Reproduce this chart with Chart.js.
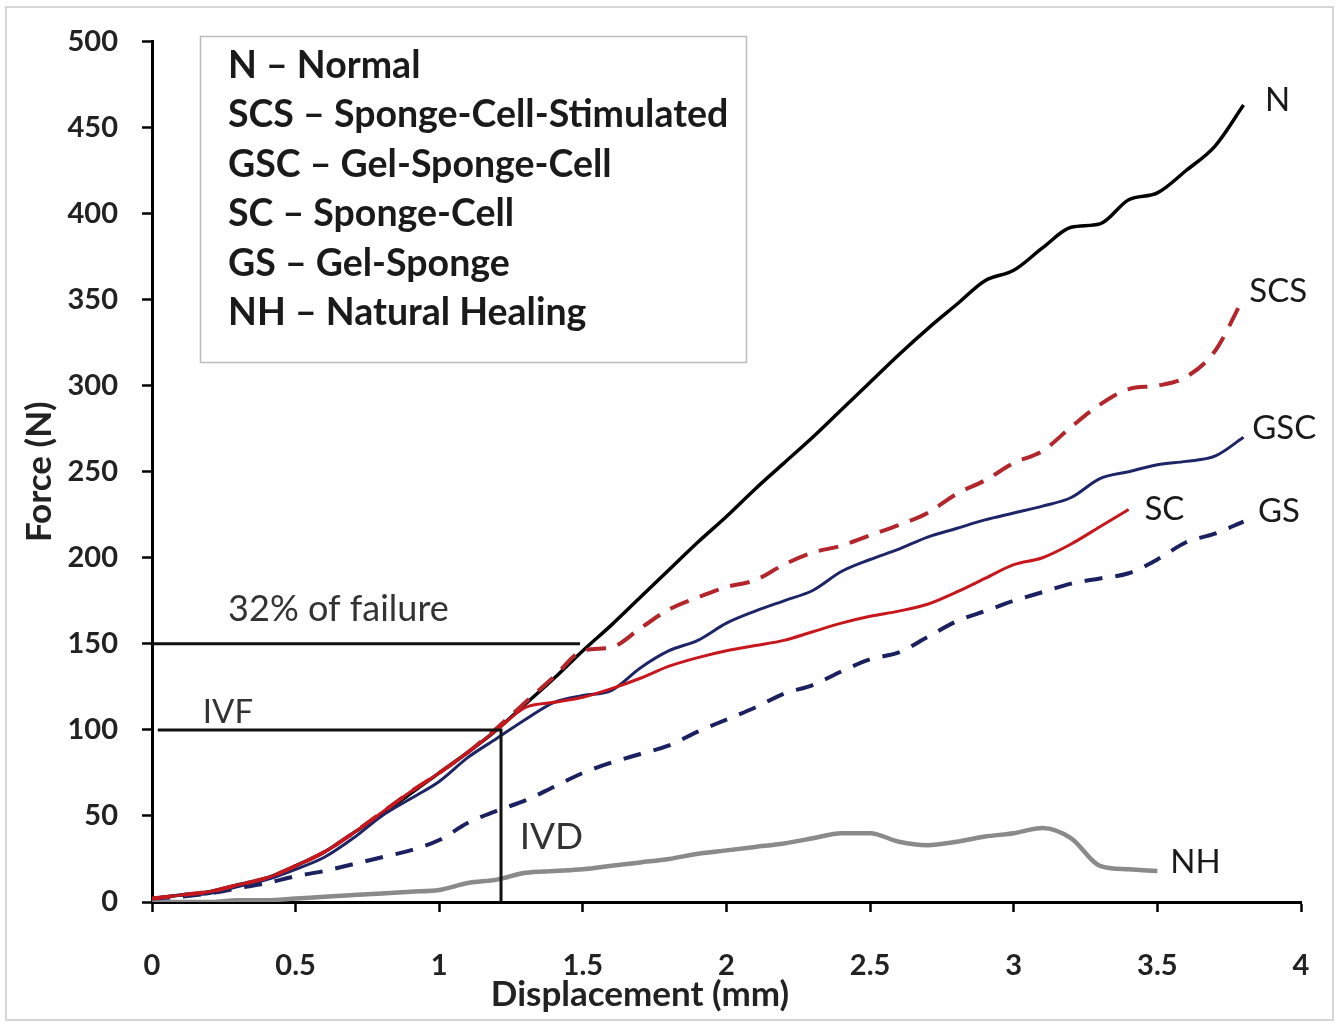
<!DOCTYPE html>
<html>
<head>
<meta charset="utf-8">
<script src="https://cdn.jsdelivr.net/npm/chart.js@4.4.1/dist/chart.umd.min.js"></script>
<style>
  body { margin: 0; background: #fff; overflow: hidden; }
  #wrap { width: 1339px; height: 1025px; }
</style>
</head>
<body>
<div id="wrap"><canvas id="forceChart"></canvas></div>
<script>
// displacement steps (mm)
const disp = [0, 0.1, 0.2, 0.3, 0.4, 0.5, 0.6, 0.7, 0.8, 0.9, 1, 1.1, 1.2, 1.3, 1.4, 1.5, 1.6, 1.7, 1.8, 1.9,
  2, 2.1, 2.2, 2.3, 2.4, 2.5, 2.6, 2.7, 2.8, 2.9, 3, 3.1, 3.2, 3.3, 3.4, 3.5, 3.6, 3.7, 3.8];

// force (N)
const normal = [2, 4, 6, 10, 14, 21, 29, 40, 51, 63, 75, 87, 100, 115, 130, 146, 161, 177, 193, 209,
  224, 240, 255, 270, 286, 302, 318, 333, 347, 361, 367, 380, 392, 394, 408, 412, 425, 439, 463];
const spongeCellStim = [2, 4, 6, 10, 14, 21, 29, 40, 52, 64, 75, 87, 101, 116, 131, 146, 148, 159, 170, 177,
  183, 187, 196, 203, 207, 213, 219, 226, 237, 245, 255, 262, 276, 289, 298, 300, 305, 320, 351];
const gelSpongeCell = [2, 4, 5, 9, 13, 19, 26, 37, 50, 60, 70, 84, 95, 106, 116, 120, 123, 136, 146, 152,
  162, 169, 175, 181, 192, 199, 205, 212, 217, 222, 226, 230, 235, 246, 250, 254, 256, 259, 270];
const spongeCell = [2, 4, 6, 10, 14, 21, 29, 40, 52, 64, 75, 87, 100, 113, 116, 119, 124, 130, 137, 142,
  146, 149, 152, 157, 162, 166, 169, 173, 180, 188, 196, 200, 208, 218, 228];
const gelSponge = [2, 3, 5, 8, 11, 15, 18, 22, 26, 30, 36, 46, 53, 59, 67, 75, 81, 86, 91, 99,
  106, 113, 121, 126, 134, 141, 145, 154, 163, 169, 175, 180, 185, 188, 191, 199, 209, 214, 221];
const naturalHealing = [0, 0, 0, 1, 1, 2, 3, 4, 5, 6, 7, 11, 13, 17, 18, 19, 21, 23, 25, 28,
  30, 32, 34, 37, 40, 40, 35, 33, 35, 38, 40, 43, 37, 21, 19, 18];

const legendLines = ['N – Normal', 'SCS – Sponge-Cell-Stimulated', 'GSC – Gel-Sponge-Cell',
  'SC – Sponge-Cell', 'GS – Gel-Sponge', 'NH – Natural Healing'];

// curve end labels [text, x, y]
const endLabels = [['N', 3.875, 466], ['SCS', 3.82, 355], ['GSC', 3.83, 275],
  ['SC', 3.455, 228], ['GS', 3.85, 227], ['NH', 3.545, 23]];

function pts(ys) {
  return ys.map((y, i) => ({ x: disp[i], y: y }));
}

const FONT = 'Lato, "Open Sans", sans-serif';

const decorPlugin = {
  id: 'decor',
  beforeDraw(chart) {
    const ctx = chart.ctx;
    ctx.save();
    ctx.strokeStyle = '#d6d6d6';
    ctx.lineWidth = 2;
    ctx.strokeRect(6, 7, 1327, 1013);
    ctx.restore();
  },
  afterDraw(chart) {
    const ctx = chart.ctx;
    const xs = chart.scales.x, ys = chart.scales.y;
    const px = v => xs.getPixelForValue(v);
    const py = v => ys.getPixelForValue(v);
    ctx.save();

    // reference lines
    ctx.strokeStyle = '#111';
    ctx.lineWidth = 3;
    ctx.beginPath();
    ctx.moveTo(px(0), py(150)); ctx.lineTo(px(1.49), py(150));
    ctx.moveTo(px(0.02), py(100)); ctx.lineTo(px(1.215), py(100));
    ctx.lineTo(px(1.215), py(0));
    ctx.stroke();

    ctx.fillStyle = '#333';
    ctx.textBaseline = 'middle';
    ctx.textAlign = 'left';
    ctx.font = '36px ' + FONT;
    ctx.fillText('32% of failure', px(0.265), py(170));
    ctx.font = '33px ' + FONT;
    ctx.fillText('IVF', px(0.177), py(110));
    ctx.font = '37px ' + FONT;
    ctx.fillText('IVD', px(1.28), py(38));

    // end labels
    ctx.fillStyle = '#1a1a1a';
    ctx.font = '33px ' + FONT;
    endLabels.forEach(l => ctx.fillText(l[0], px(l[1]), py(l[2])));

    // x axis title (sits left of the plot centre in the original)
    ctx.fillStyle = '#222';
    ctx.font = 'bold 35px ' + FONT;
    ctx.textAlign = 'center';
    ctx.fillText('Displacement (mm)', 640, 995);

    // legend box
    ctx.textAlign = 'left';
    ctx.strokeStyle = '#bdbdbd';
    ctx.lineWidth = 1.5;
    ctx.strokeRect(200.5, 36.5, 546, 326);
    ctx.fillStyle = '#1a1a1a';
    ctx.font = 'bold 37.5px ' + FONT;
    ctx.textBaseline = 'alphabetic';
    legendLines.forEach((t, i) => ctx.fillText(t, 228, 78 + i * 49.4));

    ctx.restore();
  }
};

new Chart(document.getElementById('forceChart'), {
  type: 'line',
  data: {
    datasets: [
      { label: 'SC', data: pts(spongeCell), borderColor: '#c8161d', borderWidth: 3 },
      { label: 'SCS', data: pts(spongeCellStim), borderColor: '#b3262c', borderWidth: 4, borderDash: [20, 12] },
      { label: 'GSC', data: pts(gelSpongeCell), borderColor: '#1d2566', borderWidth: 3 },
      { label: 'N', data: pts(normal), borderColor: '#000000', borderWidth: 3.5 },
      { label: 'GS', data: pts(gelSponge), borderColor: '#1b2160', borderWidth: 4, borderDash: [18, 13] },
      { label: 'NH', data: pts(naturalHealing), borderColor: '#8a8a8a', borderWidth: 4.5 }
    ]
  },
  options: {
    responsive: true,
    maintainAspectRatio: false,
    animation: false,
    layout: { padding: { left: 0, right: 38, top: 41, bottom: 0 } },
    elements: {
      point: { radius: 0 },
      line: { cubicInterpolationMode: 'monotone', fill: false }
    },
    plugins: {
      legend: { display: false },
      tooltip: { enabled: false }
    },
    scales: {
      x: {
        type: 'linear',
        min: 0,
        max: 4,
        afterFit: s => { s.height = 123; s.paddingLeft = 0; s.paddingRight = 0; },
        ticks: {
          stepSize: 0.5,
          padding: 36,
          color: '#222',
          font: { family: FONT, size: 29, weight: 'bold' },
          callback: v => String(v)
        },
        grid: { drawOnChartArea: false, color: '#000', tickLength: 10, tickWidth: 2.5 },
        border: { display: true, color: '#000', width: 3 }
      },
      y: {
        min: 0,
        max: 500,
        afterFit: s => { s.width = 152; },
        ticks: {
          stepSize: 50,
          padding: 24,
          color: '#222',
          font: { family: FONT, size: 29, weight: 'bold' }
        },
        grid: { drawOnChartArea: false, color: '#000', tickLength: 10, tickWidth: 2.5 },
        border: { display: true, color: '#000', width: 3 },
        title: {
          display: true,
          text: 'Force (N)',
          color: '#222',
          padding: { top: 19, bottom: 0 },
          font: { family: FONT, size: 35, weight: 'bold' }
        }
      }
    }
  },
  plugins: [decorPlugin]
});
</script>
</body>
</html>
